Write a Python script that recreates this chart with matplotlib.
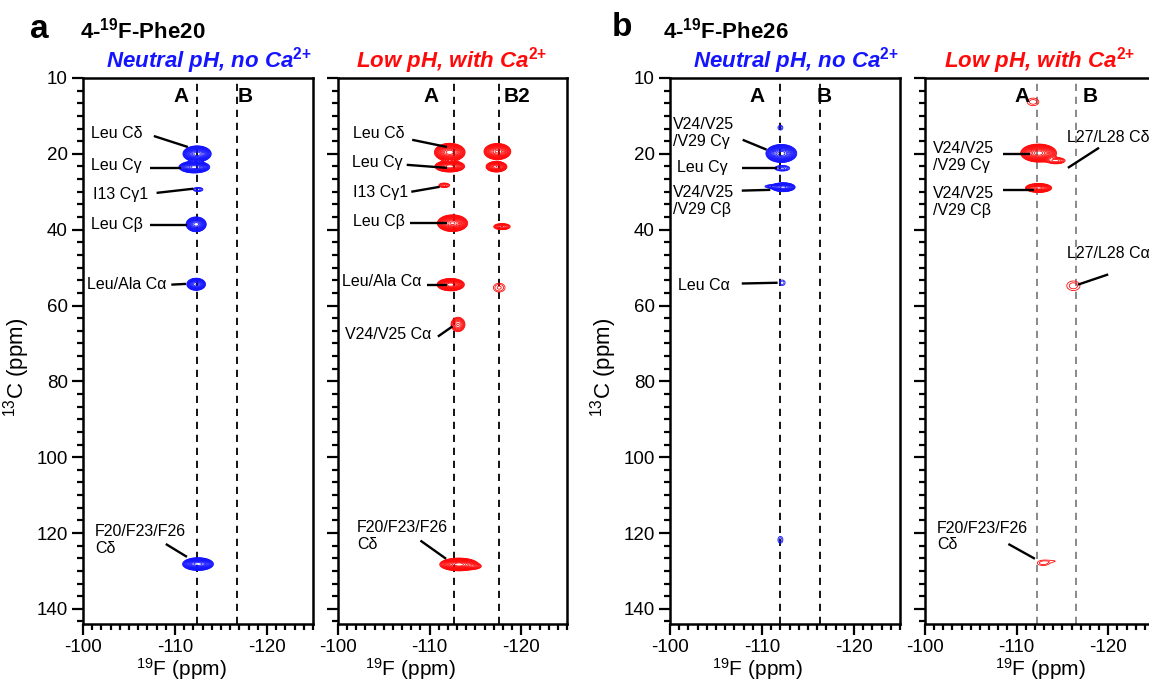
import numpy as np
import matplotlib
matplotlib.use('Agg')
import matplotlib.pyplot as plt
from matplotlib.ticker import AutoMinorLocator, MultipleLocator

plt.rcParams['font.family'] = ['Liberation Sans', 'DejaVu Sans']
plt.rcParams['mathtext.fontset'] = 'custom'
plt.rcParams['mathtext.rm'] = 'Liberation Sans'
plt.rcParams['mathtext.it'] = 'Liberation Sans:italic'
plt.rcParams['mathtext.bf'] = 'Liberation Sans:bold'
plt.rcParams['axes.unicode_minus'] = False

# Achsen (ppm)
y_ticks = [0, 20, 40, 60, 80, 100, 120, 140]
y_tick_labels = ['10', '20', '40', '60', '80', '100', '120', '140']
x_ticks = [-100, -110, -120]
x_tick_labels = ['-100', '-110', '-120']

# Peaks: (19F, 13C, Breite F, Breite C, Intensitaet)
peaks_a1 = [(-112.4, 20.0, 0.55, 0.75, 1.0), (-112.1, 23.5, 0.6, 0.55, 1.0),
            (-112.5, 29.4, 0.4, 0.4, 0.05), (-112.3, 38.6, 0.42, 0.75, 0.6),
            (-112.3, 54.4, 0.4, 0.63, 0.5), (-112.5, 128.2, 0.6, 0.6, 1.0)]
peaks_a2 = [(-112.2, 19.6, 0.6, 0.85, 1.0), (-112.2, 23.3, 0.6, 0.55, 0.8),
            (-117.4, 19.4, 0.55, 0.8, 0.7), (-117.3, 23.4, 0.45, 0.55, 0.5),
            (-111.6, 28.3, 0.4, 0.4, 0.06), (-112.5, 38.3, 0.6, 0.8, 0.9),
            (-117.9, 39.2, 0.45, 0.4, 0.15), (-112.3, 54.5, 0.55, 0.6, 0.8),
            (-117.6, 55.3, 0.6, 1.1, 0.035), (-113.1, 65.0, 0.4, 1.0, 0.12),
            (-113.2, 128.3, 0.75, 0.6, 1.0), (-114.7, 128.8, 0.5, 0.4, 0.1)]
peaks_b1 = [(-112.0, 13.1, 0.3, 0.7, 0.03), (-112.1, 19.9, 0.6, 0.85, 1.0),
            (-112.2, 23.8, 0.55, 0.5, 0.06), (-112.3, 28.8, 0.5, 0.45, 0.6),
            (-111.0, 28.6, 0.5, 0.3, 0.05), (-112.2, 54.0, 0.35, 0.8, 0.03),
            (-112.0, 121.8, 0.3, 1.0, 0.03)]
peaks_b2 = [(-111.8, 6.3, 0.7, 1.1, 0.03), (-112.4, 19.8, 0.7, 0.85, 1.0),
            (-114.3, 21.8, 0.6, 0.5, 0.08), (-112.4, 29.0, 0.55, 0.45, 0.6),
            (-116.2, 54.8, 0.8, 1.4, 0.03), (-112.9, 127.9, 0.7, 0.75, 0.03),
            (-114.3, 127.4, 0.7, 0.4, 0.016)]

# Zuordnungen: (Text, Textposition F, C, Linie von F, C, nach F, C)
labels_a1 = [('Leu Cδ', -100.9, 14.7, -107.7, 15.3, -111.4, 18.2),
             ('Leu Cγ', -100.9, 23.2, -107.3, 23.7, -110.7, 23.7),
             ('I13 Cγ1', -101.1, 30.8, -108.0, 30.3, -112.0, 29.2),
             ('Leu Cβ', -100.9, 38.7, -107.3, 38.9, -111.3, 38.9),
             ('Leu/Ala Cα', -100.4, 54.5, -109.6, 54.5, -111.2, 54.3),
             ('F20/F23/F26\nCδ', -101.3, 121.9, -109.0, 122.9, -111.3, 126.3)]
labels_a2 = [('Leu Cδ', -101.6, 14.7, -108.1, 16.3, -111.9, 18.2),
             ('Leu Cγ', -101.5, 22.4, -107.5, 22.9, -111.9, 23.7),
             ('I13 Cγ1', -101.6, 30.2, -108.0, 30.0, -111.1, 28.7),
             ('Leu Cβ', -101.6, 37.9, -107.9, 38.2, -111.9, 38.2),
             ('Leu/Ala Cα', -100.4, 53.7, -109.7, 54.5, -111.9, 54.5),
             ('V24/V25 Cα', -100.8, 67.6, -110.9, 68.2, -112.5, 65.5),
             ('F20/F23/F26\nCδ', -102.1, 120.7, -109.0, 122.0, -111.8, 126.8)]
labels_b1 = [('V24/V25\n/V29 Cγ', -100.3, 14.5, -107.9, 16.3, -110.5, 18.9),
             ('Leu Cγ', -100.8, 23.7, -107.8, 23.7, -111.6, 23.7),
             ('V24/V25\n/V29 Cβ', -100.3, 32.4, -107.8, 29.7, -110.9, 29.5),
             ('Leu Cα', -100.9, 54.7, -107.8, 54.2, -111.7, 54.0)]
labels_b2 = [('V24/V25\n/V29 Cγ', -100.9, 20.8, -108.5, 20.0, -111.5, 20.0),
             ('V24/V25\n/V29 Cβ', -100.9, 32.6, -108.5, 29.5, -111.9, 29.5),
             ('L27/L28 Cδ', -115.5, 15.7, -119.0, 18.4, -115.6, 23.7),
             ('L27/L28 Cα', -115.5, 46.3, -120.0, 51.8, -116.7, 54.5),
             ('F20/F23/F26\nCδ', -101.3, 120.9, -109.1, 122.9, -112.0, 126.8)]

# Gestrichelte Linien (A, B) und Beschriftungen
dash_a1 = [-112.4, -116.7]
dash_a2 = [-112.7, -117.6]
dash_b1 = [-112.0, -116.3]
dash_b2 = [-112.2, -116.5]
site_a1 = [('A', -110.7), ('B', -117.6)]
site_a2 = [('A', -110.2), ('B2', -119.5)]
site_b1 = [('A', -109.5), ('B', -116.8)]
site_b2 = [('A', -110.6), ('B', -118.0)]

blue = '#1414ff'
red = '#ff0a0a'
ca = r'$^{\mathbf{2{+}}}$'

panels = [
    # pos, peaks, labels, dashes, sites, color, dash color, title, title x, ylabels, xlabel x
    ([83, 230], peaks_a1, labels_a1, dash_a1, site_a1, blue, 'black',
     'Neutral pH, no Ca' + ca, 209, True, 181),
    ([338, 229], peaks_a2, labels_a2, dash_a2, site_a2, red, 'black',
     'Low pH, with Ca' + ca, 452, False, 410),
    ([670, 230], peaks_b1, labels_b1, dash_b1, site_b1, blue, 'black',
     'Neutral pH, no Ca' + ca, 796, True, 757),
    ([925, 229], peaks_b2, labels_b2, dash_b2, site_b2, red, '#808080',
     'Low pH, with Ca' + ca, 1040, False, 1040),
]

W, H = 1149, 685
fig = plt.figure(figsize=(W / 100, H / 100), dpi=100)

F = np.linspace(-99, -127, 700)
C = np.linspace(0, 146, 1100)
FF, CC = np.meshgrid(F, C)
levels = 0.02 * 1.28 ** np.arange(18)

for (left, width), peaks, labels, dashes, sites, col, dcol, title, tx, ylab, xlx in panels:
    ax = fig.add_axes([left / W, 1 - 624 / H, width / W, 546 / H])
    Z = np.zeros_like(FF)
    for f0, c0, sf, sc, amp in peaks:
        Z += amp * np.exp(-0.5 * ((FF - f0) / sf) ** 2 - 0.5 * ((CC - c0) / sc) ** 2)
    ax.contour(FF, CC, Z, levels=levels, colors=col, linewidths=0.6)

    for xd in dashes:
        ax.axvline(xd, color=dcol, lw=1.3, dashes=(4, 3.2), zorder=1)
    for s, xs in sites:
        ax.text(xs, 6.4, s, ha='center', va='baseline', fontsize=15, fontweight='bold')
    for txt, x0, y0, lx0, ly0, lx1, ly1 in labels:
        ax.text(x0, y0, txt, ha='left', va='center', fontsize=11.5, linespacing=1.15)
        ax.plot([lx0, lx1], [ly0, ly1], color='black', lw=1.7, solid_capstyle='butt')

    ax.set_xlim(-100, -125)
    ax.set_ylim(144, 0)
    ax.set_xticks(x_ticks)
    ax.set_xticklabels(x_tick_labels)
    ax.set_yticks(y_ticks)
    ax.xaxis.set_minor_locator(MultipleLocator(1))
    ax.yaxis.set_minor_locator(AutoMinorLocator(6))
    if ylab:
        ax.set_yticklabels(y_tick_labels)
        ax.set_ylabel(r'$^{13}$C (ppm)', fontsize=16)
        ax.yaxis.set_label_coords(-0.22, 0.47)
    else:
        ax.set_yticklabels([])
    ax.set_xlabel(r'$^{19}$F (ppm)', fontsize=15)
    ax.xaxis.set_label_coords((xlx - left) / width, -0.058)
    ax.tick_params(which='major', direction='out', length=8, width=1.6, labelsize=13.5, pad=3)
    ax.tick_params(which='minor', direction='out', length=4, width=1.6)
    for sp in ax.spines.values():
        sp.set_linewidth(1.8)

    fig.text(tx / W, 1 - 68 / H, title, ha='center', va='baseline', fontsize=16,
             fontweight='bold', fontstyle='italic', color=col)

fig.text(30 / W, 1 - 38 / H, 'a', fontsize=24, fontweight='bold', va='baseline')
fig.text(80 / W, 1 - 38 / H, r'4-$^{\mathbf{19}}$F-Phe20', fontsize=16, fontweight='bold', va='baseline')
fig.text(612 / W, 1 - 36 / H, 'b', fontsize=24, fontweight='bold', va='baseline')
fig.text(663 / W, 1 - 38 / H, r'4-$^{\mathbf{19}}$F-Phe26', fontsize=16, fontweight='bold', va='baseline')

fig.savefig('out.png', dpi=100)
